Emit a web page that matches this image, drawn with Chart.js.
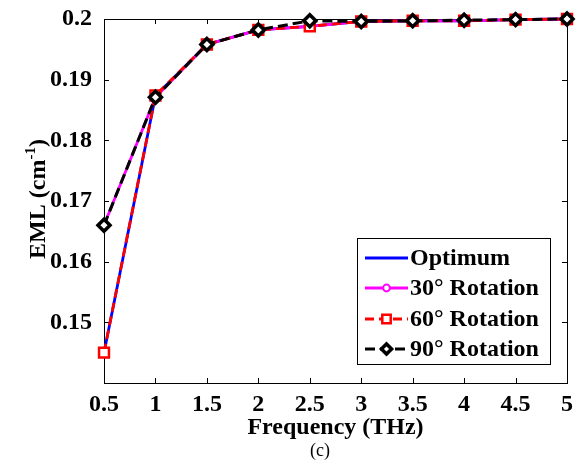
<!DOCTYPE html>
<html>
<head>
<meta charset="utf-8">
<script src="https://cdn.jsdelivr.net/npm/chart.js@4.4.1/dist/chart.umd.min.js"></script>
<style>
  html, body { margin: 0; padding: 0; background: #fff; }
  #wrap { width: 584px; height: 467px; position: relative; }
</style>
</head>
<body>
<div id="wrap"><canvas id="c" width="584" height="467"></canvas></div>
<script>
const frequency = [0.5, 1, 1.5, 2, 2.5, 3, 3.5, 4, 4.5, 5];
const optimum = [0.145, 0.1873, 0.1958, 0.1982, 0.1988, 0.1996, 0.1997, 0.1997, 0.1999, 0.2];
const rot30   = [0.166, 0.1871, 0.1958, 0.1982, 0.1988, 0.1996, 0.1997, 0.1997, 0.1999, 0.2];
const rot60   = [0.145, 0.1874, 0.1958, 0.1982, 0.1988, 0.1996, 0.1997, 0.1997, 0.1999, 0.2];
const rot90   = [0.166, 0.1871, 0.1958, 0.1982, 0.1997, 0.1996, 0.1997, 0.1998, 0.1999, 0.2];
const seriesNames = ['Optimum', '30\u00b0 Rotation', '60\u00b0 Rotation', '90\u00b0 Rotation'];
const xTicks = [0.5, 1, 1.5, 2, 2.5, 3, 3.5, 4, 4.5, 5];
const yTicks = [0.15, 0.16, 0.17, 0.18, 0.19, 0.2];
const xTitle = 'Frequency (THz)';
const yTitleMain = 'EML (cm';
const yTitleSup = '-1';
const yTitleEnd = ')';
const caption = '(c)';

const FONT = '"Liberation Serif", "Times New Roman", serif';
const toXY = arr => arr.map((v, i) => ({x: frequency[i], y: v}));

const datasets = [
  {label: seriesNames[0], data: toXY(optimum), borderColor: '#0000ff', backgroundColor: '#0000ff',
   borderWidth: 2.8, pointRadius: 0, order: 4},
  {label: seriesNames[1], data: toXY(rot30), borderColor: '#ff00ff', backgroundColor: '#ffffff',
   borderWidth: 2.8, pointStyle: 'circle', pointRadius: 4, pointBorderWidth: 2, order: 3},
  {label: seriesNames[2], data: toXY(rot60), borderColor: '#ff0000', backgroundColor: '#ffffff',
   borderWidth: 2.8, borderDash: [9, 5], pointStyle: 'rect', pointRadius: 7, pointBorderWidth: 2.5, order: 2},
  {label: seriesNames[3], data: toXY(rot90), borderColor: '#000000', backgroundColor: '#ffffff',
   borderWidth: 3, borderDash: [10, 5], pointStyle: 'rectRot', pointRadius: 6, pointBorderWidth: 3.5, order: 1}
];
datasets.forEach(d => { d.clip = false; d.tension = 0; d.fill = false; });

const zeroPad = s => { s.paddingTop = 0; s.paddingBottom = 0; s.paddingLeft = 0; s.paddingRight = 0; };

const boxPlugin = {
  id: 'matlabBox',
  beforeDatasetsDraw(chart) {
    const {ctx, chartArea: {left, right, top, bottom}, scales: {x, y}} = chart;
    ctx.save();
    ctx.strokeStyle = '#000';
    ctx.lineWidth = 1;
    ctx.strokeRect(Math.round(left) + 0.5, Math.round(top) + 0.5, Math.round(right - left), Math.round(bottom - top));
    const tl = 5;
    ctx.beginPath();
    xTicks.forEach(v => {
      const px = Math.round(x.getPixelForValue(v)) + 0.5;
      ctx.moveTo(px, bottom); ctx.lineTo(px, bottom - tl);
      ctx.moveTo(px, top); ctx.lineTo(px, top + tl);
    });
    yTicks.forEach(v => {
      const py = Math.round(y.getPixelForValue(v)) + 0.5;
      ctx.moveTo(left, py); ctx.lineTo(left + tl, py);
      ctx.moveTo(right, py); ctx.lineTo(right - tl, py);
    });
    ctx.stroke();
    ctx.restore();
  },
  afterDraw(chart) {
    const {ctx} = chart;
    ctx.save();
    // y axis title with superscript
    ctx.fillStyle = '#000';
    ctx.textBaseline = 'alphabetic';
    ctx.textAlign = 'left';
    const mainF = 'bold 24px ' + FONT, supF = 'bold 15px ' + FONT;
    ctx.font = mainF; const w1 = ctx.measureText(yTitleMain).width; const w3 = ctx.measureText(yTitleEnd).width;
    ctx.font = supF; const w2 = ctx.measureText(yTitleSup).width;
    const total = w1 + w2 + w3;
    ctx.save();
    ctx.translate(45, 199);
    ctx.rotate(-Math.PI / 2);
    let sx = -total / 2;
    ctx.font = mainF; ctx.fillText(yTitleMain, sx, 0); sx += w1;
    ctx.font = supF; ctx.fillText(yTitleSup, sx, -10); sx += w2;
    ctx.font = mainF; ctx.fillText(yTitleEnd, sx, 0);
    ctx.restore();

    // legend box
    const bx = 357, by = 238, bw = 193, bh = 126;
    ctx.fillStyle = '#fff';
    ctx.fillRect(bx, by, bw, bh);
    ctx.strokeStyle = '#000';
    ctx.lineWidth = 1;
    ctx.strokeRect(bx + 0.5, by + 0.5, bw, bh);
    const rows = [258, 288, 319, 349];
    chart.data.datasets.forEach((d, i) => {
      const yy = rows[i];
      ctx.save();
      ctx.strokeStyle = d.borderColor;
      ctx.lineWidth = d.borderWidth;
      ctx.setLineDash(d.borderDash || []);
      ctx.beginPath();
      ctx.moveTo(365, yy); ctx.lineTo(408, yy);
      ctx.stroke();
      ctx.setLineDash([]);
      if (d.pointRadius > 0) {
        ctx.fillStyle = d.backgroundColor;
        ctx.strokeStyle = d.borderColor;
        ctx.lineWidth = d.pointBorderWidth;
        Chart.helpers.drawPoint(ctx, {pointStyle: d.pointStyle, radius: d.pointRadius * 0.85, rotation: 0, borderWidth: d.pointBorderWidth}, 386.5, yy);
      }
      ctx.restore();
      ctx.fillStyle = '#000';
      ctx.font = 'bold 24px ' + FONT;
      ctx.textBaseline = 'middle';
      ctx.textAlign = 'left';
      ctx.fillText(d.label, 410, yy + 1);
    });
    // caption
    ctx.fillStyle = '#000';
    ctx.font = '18px ' + FONT;
    ctx.textAlign = 'center';
    ctx.textBaseline = 'middle';
    ctx.fillText(caption, 320, 451);
    ctx.restore();
  }
};

new Chart(document.getElementById('c'), {
  type: 'line',
  data: {datasets},
  options: {
    responsive: false,
    animation: false,
    devicePixelRatio: 1,
    layout: {padding: {top: 19, right: 17, left: 0, bottom: 0}},
    plugins: {legend: {display: false}, tooltip: {enabled: false}},
    scales: {
      x: {
        type: 'linear', min: 0.5, max: 5,
        afterBuildTicks: s => { s.ticks = xTicks.map(v => ({value: v})); },
        afterFit: s => { s.height = 84; zeroPad(s); },
        grid: {display: false, drawTicks: false}, border: {display: false},
        ticks: {color: '#000', padding: 7, font: {family: FONT, size: 24, weight: 'bold'}, maxRotation: 0,
                callback: v => String(v)},
        title: {display: true, text: xTitle, color: '#000', padding: {top: 0, bottom: 25},
                font: {family: FONT, size: 24, weight: 'bold'}}
      },
      y: {
        type: 'linear', min: 0.14, max: 0.2,
        afterBuildTicks: s => { s.ticks = yTicks.map(v => ({value: v})); },
        afterFit: s => { s.width = 104; zeroPad(s); },
        grid: {display: false, drawTicks: false}, border: {display: false},
        ticks: {color: '#000', padding: 12, font: {family: FONT, size: 24, weight: 'bold'},
                callback: v => String(Math.round(v * 100) / 100)},
        title: {display: false}
      }
    }
  },
  plugins: [boxPlugin]
});
</script>
</body>
</html>
